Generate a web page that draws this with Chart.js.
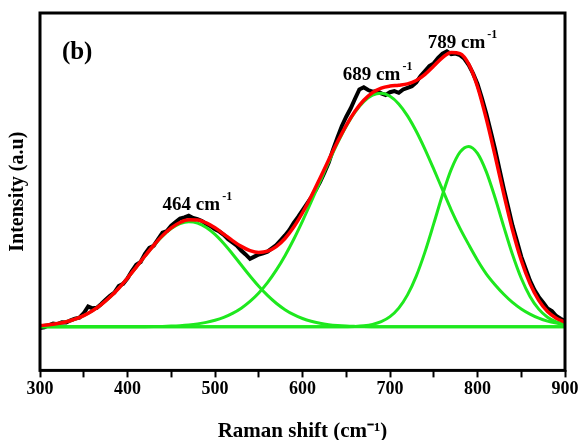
<!DOCTYPE html>
<html>
<head>
<meta charset="utf-8">
<script src="https://cdn.jsdelivr.net/npm/chart.js@4.4.1/dist/chart.umd.min.js"></script>
<style>
  html, body { margin: 0; padding: 0; background: #fff; }
  #wrap { width: 580px; height: 440px; }
</style>
</head>
<body>
<div id="wrap"><canvas id="c" width="580" height="440"></canvas></div>
<script>
// ---- Data ----
const ramanShift = [300,310,320,330,340,350,360,370,380,390,400,410,420,430,440,450,460,470,480,490,500,510,520,530,540,550,560,570,580,590,600,610,620,630,640,650,660,670,680,690,700,710,720,730,740,750,760,770,780,790,800,810,820,830,840,850,860,870,880,890,900];

const peak464 = [0.0045,0.0074,0.0120,0.0186,0.0282,0.0415,0.0590,0.0816,0.1093,0.1420,0.1791,0.2189,0.2597,0.2988,0.3334,0.3609,0.3789,0.3859,0.3813,0.3653,0.3396,0.3061,0.2677,0.2271,0.1869,0.1491,0.1155,0.0867,0.0631,0.0446,0.0306,0.0203,0.0131,0.0082,0.0050,0.0029,0.0017,0.0009,0.0005,0.0002,0,0,0,0,0,0,0,0,0,0,0,0,0,0,0,0,0,0,0,0,0];

const peak689 = [0,0,0,0,0,0,0,0,0,0,0.0002,0.0004,0.0006,0.0010,0.0017,0.0028,0.0045,0.0071,0.0109,0.0164,0.0241,0.0348,0.0493,0.0685,0.0932,0.1243,0.1625,0.2082,0.2615,0.3220,0.3886,0.4596,0.5330,0.6057,0.6749,0.7369,0.7888,0.8275,0.8511,0.8580,0.8471,0.8190,0.7752,0.7185,0.6520,0.5792,0.5039,0.4292,0.3620,0.3020,0.2450,0.1950,0.1550,0.1200,0.0900,0.0660,0.0470,0.0320,0.0210,0.0140,0.0090];

const peak789 = [0,0,0,0,0,0,0,0,0,0,0,0,0,0,0,0,0,0,0,0,0,0,0,0,0,0,0,0,0,0,0,0,0,0,0,0.0006,0.0016,0.0040,0.0090,0.0191,0.0375,0.0688,0.1174,0.1864,0.2755,0.3790,0.4853,0.5785,0.6419,0.6630,0.6373,0.5703,0.4750,0.3683,0.2658,0.1785,0.1117,0.0650,0.0352,0.0178,0.0084];

const fitTotal = [0.0045,0.0074,0.0120,0.0186,0.0282,0.0415,0.0590,0.0816,0.1093,0.1420,0.1793,0.2193,0.2603,0.2998,0.3351,0.3637,0.3834,0.3930,0.3922,0.3817,0.3637,0.3409,0.3170,0.2956,0.2801,0.2734,0.2780,0.2949,0.3246,0.3666,0.4192,0.4799,0.5461,0.6139,0.6799,0.7404,0.7921,0.8324,0.8606,0.8773,0.8846,0.8878,0.8926,0.9049,0.9275,0.9582,0.9892,1.0077,1.0039,0.9650,0.8823,0.7653,0.6300,0.4883,0.3558,0.2445,0.1587,0.0970,0.0562,0.0318,0.0174];

const rawShift = [300,305,310,315,320,325,330,335,340,345,350,355,360,365,370,375,380,385,390,395,400,405,410,415,420,425,430,435,440,445,450,455,460,465,470,475,480,485,490,495,500,505,510,515,520,525,530,535,540,545,550,555,560,565,570,575,580,585,590,595,600,605,610,615,620,625,630,635,640,645,650,655,660,665,670,675,680,685,690,695,700,705,710,715,720,725,730,735,740,745,750,755,760,765,770,775,780,785,790,795,800,805,810,815,820,825,830,835,840,845,850,855,860,865,870,875,880,885,890,895,900];

const rawIntensity = [-0.004,-0.002,0.006,0.012,0.010,0.017,0.016,0.024,0.030,0.034,0.050,0.075,0.068,0.070,0.084,0.100,0.114,0.126,0.150,0.158,0.178,0.205,0.228,0.238,0.268,0.290,0.298,0.322,0.346,0.352,0.372,0.385,0.398,0.402,0.408,0.400,0.396,0.389,0.378,0.370,0.358,0.350,0.338,0.322,0.310,0.298,0.280,0.266,0.250,0.258,0.266,0.270,0.276,0.288,0.300,0.318,0.336,0.356,0.382,0.404,0.428,0.452,0.476,0.502,0.532,0.566,0.604,0.652,0.696,0.738,0.772,0.802,0.838,0.872,0.880,0.870,0.864,0.866,0.858,0.852,0.862,0.866,0.860,0.872,0.878,0.884,0.898,0.922,0.940,0.958,0.968,0.988,1.004,1.012,1.002,1.004,0.998,0.985,0.962,0.930,0.892,0.840,0.784,0.720,0.654,0.580,0.508,0.440,0.372,0.316,0.258,0.214,0.170,0.136,0.110,0.090,0.068,0.058,0.040,0.030,0.022];

const baselineShift = [300, 900];
const baselineLevel = [0, 0];

const tickPositions = [300,350,400,450,500,550,600,650,700,750,800,850,900];
const tickLabels = ['300','400','500','600','700','800','900'];

const peakNames = ['464', '689', '789'];

// ---- Chart ----
const FONT = "'Liberation Serif', 'Times New Roman', serif";
const GREEN = '#1ee81e';

function pts(xs, ys) { return xs.map((x, i) => ({ x: x, y: ys[i] })); }

const labelPlugin = {
  id: 'labels',
  afterDatasetsDraw(chart) {
    const { ctx, chartArea: a, scales: { x, y } } = chart;
    ctx.save();
    // frame
    ctx.strokeStyle = '#000';
    ctx.lineWidth = 3;
    ctx.strokeRect(a.left, a.top, a.right - a.left, a.bottom - a.top);

    // panel label
    ctx.fillStyle = '#000';
    ctx.textBaseline = 'alphabetic';
    ctx.textAlign = 'left';
    ctx.font = 'bold 25px ' + FONT;
    ctx.fillText('(b)', x.getPixelForValue(325), y.getPixelForValue(0.985));

    // peak labels: [centre x, baseline y] in data units
    const anchors = [[473, 0.43], [679, 0.907], [776, 1.024]];
    peakNames.forEach((name, i) => {
      const px = x.getPixelForValue(anchors[i][0]);
      const py = y.getPixelForValue(anchors[i][1]);
      const main = name + ' cm';
      ctx.font = 'bold 19px ' + FONT;
      const w = ctx.measureText(main).width;
      ctx.textAlign = 'left';
      ctx.fillText(main, px - w / 2, py);
      ctx.font = 'bold 12px ' + FONT;
      ctx.fillText('-1', px + w / 2 + 2, py - 10);
    });
    ctx.restore();
  }
};

new Chart(document.getElementById('c'), {
  type: 'line',
  data: {
    datasets: [
      { data: pts(ramanShift, fitTotal), borderColor: '#ff0000', borderWidth: 3.5, pointRadius: 0, cubicInterpolationMode: 'monotone', order: 0 },
      { data: pts(ramanShift, peak464), borderColor: GREEN, borderWidth: 3, pointRadius: 0, cubicInterpolationMode: 'monotone', order: 1 },
      { data: pts(ramanShift, peak689), borderColor: GREEN, borderWidth: 3, pointRadius: 0, cubicInterpolationMode: 'monotone', order: 1 },
      { data: pts(ramanShift, peak789), borderColor: GREEN, borderWidth: 3, pointRadius: 0, cubicInterpolationMode: 'monotone', order: 1 },
      { data: pts(baselineShift, baselineLevel), borderColor: GREEN, borderWidth: 3, pointRadius: 0, order: 2 },
      { data: pts(rawShift, rawIntensity), borderColor: '#000000', borderWidth: 4, pointRadius: 0, tension: 0, order: 3 }
    ]
  },
  options: {
    responsive: false,
    animation: false,
    devicePixelRatio: 1,
    layout: { padding: { left: 0, right: 15, top: 13, bottom: 0 } },
    plugins: { legend: { display: false }, tooltip: { enabled: false } },
    scales: {
      x: {
        type: 'linear',
        min: 300,
        max: 900,
        afterBuildTicks: (s) => { s.ticks = tickPositions.map(v => ({ value: v })); },
        ticks: {
          autoSkip: false,
          maxRotation: 0,
          padding: 1,
          color: '#000',
          font: { family: FONT, size: 18, weight: 'bold' },
          callback: (v) => tickLabels.includes(String(v)) ? String(v) : ''
        },
        grid: { drawOnChartArea: false, drawTicks: true, tickLength: 7, tickWidth: 2, tickColor: '#000' },
        border: { display: false },
        title: {
          display: true,
          text: 'Raman shift (cm\u207B\u00B9)',
          color: '#000',
          font: { family: FONT, size: 21, weight: 'bold', lineHeight: 1 },
          padding: { top: 20, bottom: -2 }
        }
      },
      y: {
        min: -0.16,
        max: 1.153,
        ticks: { display: false },
        grid: { display: false, drawTicks: false },
        border: { display: false },
        title: {
          display: true,
          text: 'Intensity (a.u)',
          color: '#000',
          font: { family: FONT, size: 20, weight: 'bold', lineHeight: 1.2 },
          padding: { top: 6, bottom: 10 }
        }
      }
    }
  },
  plugins: [labelPlugin]
});
</script>
</body>
</html>
